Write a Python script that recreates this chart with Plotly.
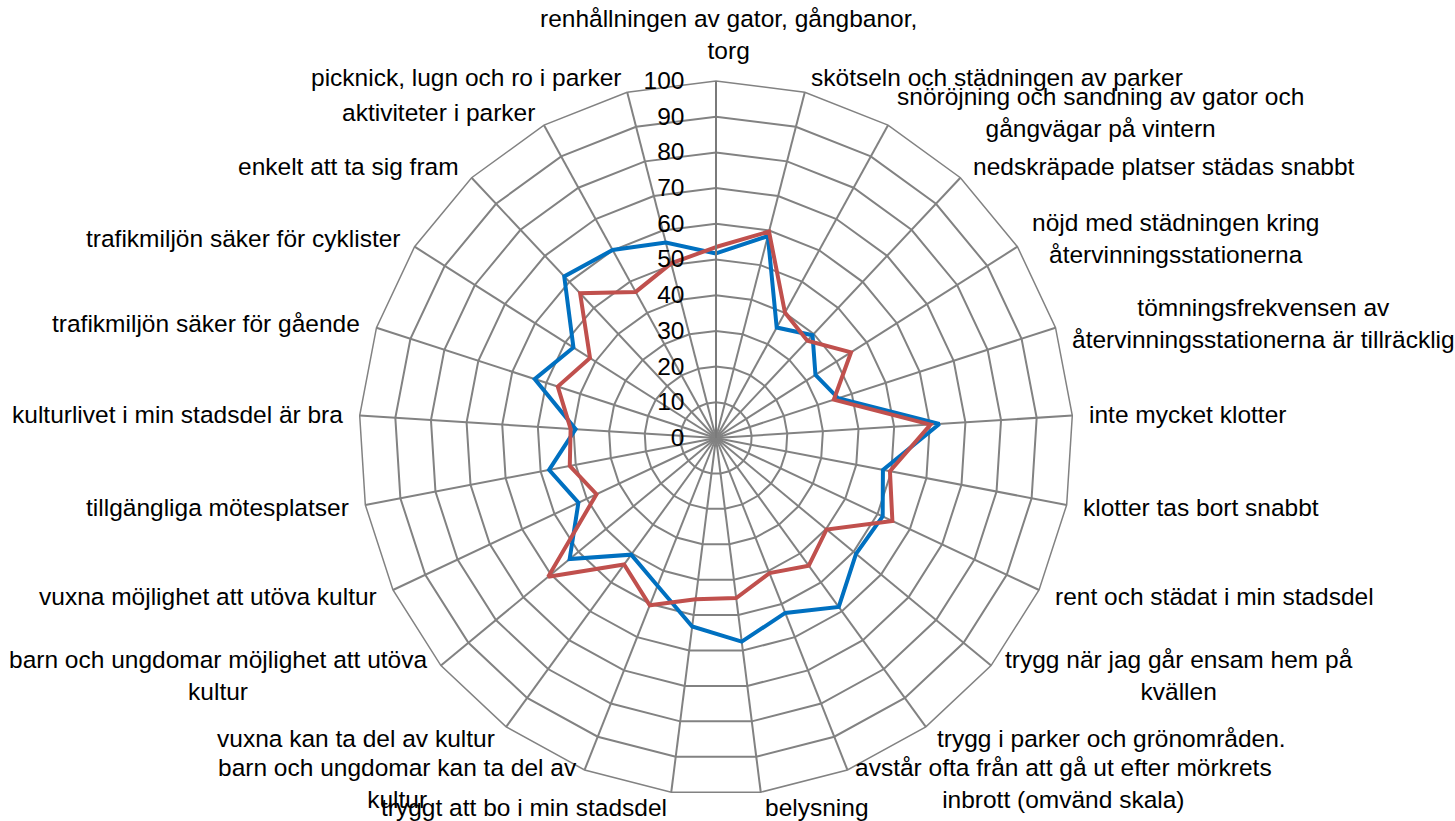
import math
import plotly.graph_objects as go

categories = [
    "renhållningen av gator, gångbanor,<br>torg",
    "skötseln och städningen av parker",
    "snöröjning och sandning av gator och<br>gångvägar på vintern",
    "nedskräpade platser städas snabbt",
    "nöjd med städningen kring<br>återvinningsstationerna",
    "tömningsfrekvensen av<br>återvinningsstationerna är tillräcklig",
    "inte mycket klotter",
    "klotter tas bort snabbt",
    "rent och städat i min stadsdel",
    "trygg när jag går ensam hem på<br>kvällen",
    "trygg i parker och grönområden.",
    "avstår ofta från att gå ut efter mörkrets<br>inbrott (omvänd skala)",
    "belysning",
    "tryggt att bo i min stadsdel",
    "barn och ungdomar kan ta del av<br>kultur",
    "vuxna kan ta del av kultur",
    "barn och ungdomar möjlighet att utöva<br>kultur",
    "vuxna möjlighet att utöva kultur",
    "tillgängliga mötesplatser",
    "kulturlivet i min stadsdel är bra",
    "trafikmiljön säker för gående",
    "trafikmiljön säker för cyklister",
    "enkelt att ta sig fram",
    "aktiviteter i parker",
    "picknick, lugn och ro i parker",
]

series_blue = [51.7, 58.4, 35.3, 39.5, 33.0, 36.0, 62.7, 47.6, 51.6, 50.9,
               58.5, 52.7, 57.5, 53.2, 44.5, 40.4, 53.2, 42.6, 47.6, 39.4,
               53.4, 47.3, 62.1, 60.1, 56.5]
series_red = [53.5, 59.7, 40.1, 37.4, 44.8, 34.7, 60.2, 49.6, 54.6, 40.2,
              44.2, 40.7, 45.2, 45.5, 50.4, 43.8, 61.0, 37.0, 41.7, 40.8,
              46.6, 41.8, 55.6, 46.7, 50.5]

radial_ticks = list(range(0, 101, 10))

FONT = "Liberation Sans, Arial, sans-serif"
GRID = "#828282"
LABEL_SIZE = 24.5

# layout geometry (pixels)
W, H = 1455, 821
ML, MR, MT, MB = 100, 123, 81, 26
PW, PH = W - ML - MR, H - MT - MB
CX, CY = ML + PW / 2, MT + PH / 2
RAD = min(PW, PH) / 2
LABEL_GAP = 15

fig = go.Figure()
for vals, color, name in [(series_blue, "#0070C0", "Serie 1"),
                          (series_red, "#C0504D", "Serie 2")]:
    fig.add_trace(go.Scatterpolar(
        r=vals + vals[:1],
        theta=categories + categories[:1],
        mode="lines",
        line=dict(color=color, width=4),
        name=name,
    ))

# category labels placed Excel-style next to each outer vertex
annotations = []
n = len(categories)
for i, lab in enumerate(categories):
    th = math.radians(i * 360.0 / n)
    s, c = math.sin(th), math.cos(th)
    px = CX + (RAD + LABEL_GAP) * s
    py = CY - (RAD + LABEL_GAP) * c
    if s > 0.05:
        xa = "left"
    elif s < -0.05:
        xa = "right"
    else:
        xa = "center"
    ya = "bottom" if c > 0.99 else "middle"
    annotations.append(dict(
        text=lab, showarrow=False, xref="paper", yref="paper",
        x=(px - ML) / PW, y=1 - (py - MT) / PH,
        xanchor=xa, yanchor=ya, align="center",
        xshift=12 if xa == "center" else 0,
        font=dict(family=FONT, size=LABEL_SIZE, color="black"),
    ))

fig.update_layout(
    width=W, height=H,
    paper_bgcolor="white",
    plot_bgcolor="white",
    showlegend=False,
    margin=dict(l=ML, r=MR, t=MT, b=MB, autoexpand=False),
    font=dict(family=FONT, size=24, color="black"),
    annotations=annotations,
    polar=dict(
        bgcolor="white",
        gridshape="linear",
        domain=dict(x=[0, 1], y=[0, 1]),
        radialaxis=dict(
            range=[0, 100],
            tickvals=radial_ticks,
            ticktext=[str(v) for v in radial_ticks],
            angle=90,
            side="counterclockwise",
            tickangle=90,
            showline=True,
            linecolor="#7a7a7a",
            linewidth=2,
            gridcolor=GRID,
            gridwidth=1.5,
            ticks="outside",
            ticklen=22,
            tickcolor="rgba(0,0,0,0)",
            tickfont=dict(family=FONT, size=LABEL_SIZE, color="black"),
        ),
        angularaxis=dict(
            direction="clockwise",
            rotation=90,
            showline=True,
            linecolor=GRID,
            linewidth=1.5,
            gridcolor=GRID,
            gridwidth=1.5,
            ticks="",
            showticklabels=False,
        ),
    ),
)

fig.write_html(
    "out.html",
    config={"displayModeBar": False},
    post_script="document.body.style.margin='0';document.body.style.overflow='hidden';",
)
